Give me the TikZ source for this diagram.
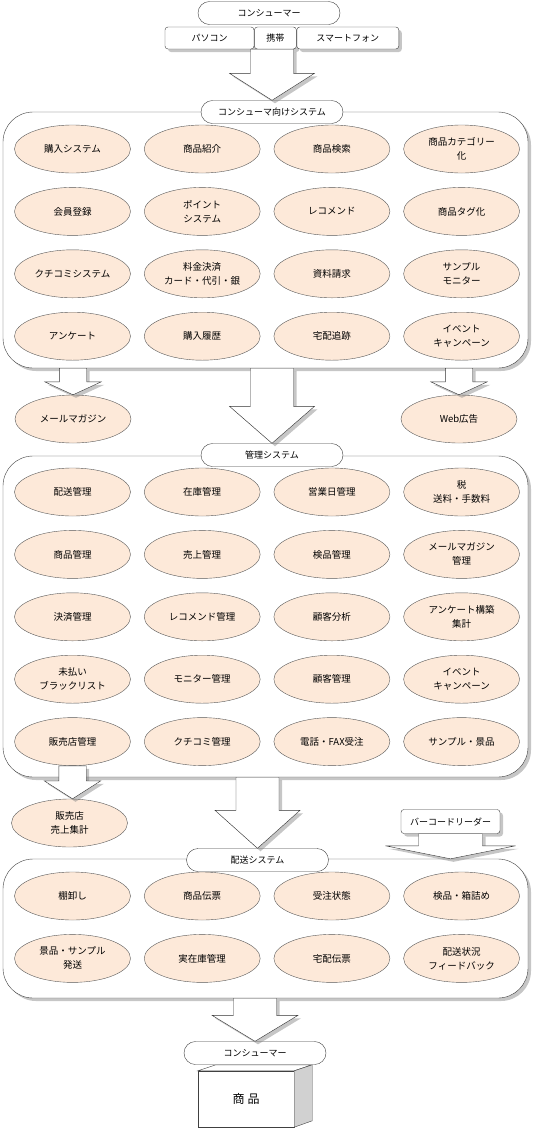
\documentclass[tikz,border=0pt]{standalone}
\usepackage{fontspec}
\setmainfont{Noto Sans CJK JP}
\usepackage{tikz}
\usetikzlibrary{positioning, calc, shapes.geometric, shapes.misc, shadows}
\definecolor{peach}{HTML}{FDE9D9}
\tikzset{
	shadowed/.style = {drop shadow={shadow xshift=3pt, shadow yshift=-3pt, opacity=.45}},
	arrowbody/.style = {draw=black!80, fill=white, line join=miter, shadowed}
}
% dicker Blockpfeil: Start, Spitze, halbe Schaftbreite, halbe Kopfbreite, Kopflaenge
\newcommand{\bigarrow}[5]{%
	\draw[arrowbody] let \p1=(#1), \p2=(#2) in
		(\x1-#3pt,\y1) -- (\x1-#3pt,\y2+#5pt) -- (\x1-#4pt,\y2+#5pt) -- (\x1,\y2)
		-- (\x1+#4pt,\y2+#5pt) -- (\x1+#3pt,\y2+#5pt) -- (\x1+#3pt,\y1) -- cycle;}

\begin{document}
\begin{tikzpicture}[x=1pt, y=-1pt,
		sysbox/.style={draw=black!75, fill=white, rounded corners=30pt, shadowed},
		funcell/.style={ellipse, draw=black!65, fill=peach, minimum width=116pt, minimum height=48pt, inner sep=0pt, align=center, font=\fontsize{9.5pt}{14pt}\selectfont},
		titlepill/.style={rounded rectangle, draw=black!75, fill=white, minimum width=142pt, minimum height=23pt, inner sep=0pt, font=\fontsize{9pt}{11pt}\selectfont},
		devbox/.style={draw=black!75, fill=white, rounded corners=3pt, minimum height=22pt, inner sep=0pt, shadowed, font=\fontsize{9pt}{11pt}\selectfont},
		node distance=14pt and 13.3pt % Abstand zwischen den Ellipsen
		]
		\useasboundingbox (0,0) rectangle (540,1128);
		
		% Eingabegeraete
		\node[titlepill] (T0) at (269,13) {コンシューマー};
		\node[devbox, minimum width=89pt] (D1) at (209.5,38) {パソコン};
		\node[devbox, minimum width=42pt, right=0pt of D1] (D2) {携帯};
		\node[devbox, minimum width=102pt, right=0pt of D2] (D3) {スマートフォン};
		
		% Konsumentensystem
		\node[sysbox, minimum width=525pt, minimum height=256pt] (S1) at (265.5,240) {};
		\node[funcell] (K1) at (72.5,149) {購入システム};
		\node[funcell, right=of K1] (K2) {商品紹介};
		\node[funcell, right=of K2] (K3) {商品検索};
		\node[funcell, right=of K3] (K4) {商品カテゴリー\\化};
		\node[funcell, below=of K1] (K5) {会員登録};
		\node[funcell, right=of K5] (K6) {ポイント\\システム};
		\node[funcell, right=of K6] (K7) {レコメンド};
		\node[funcell, right=of K7] (K8) {商品タグ化};
		\node[funcell, below=of K5] (K9) {クチコミシステム};
		\node[funcell, right=of K9] (K10) {料金決済\\カード・代引・銀};
		\node[funcell, right=of K10] (K11) {資料請求};
		\node[funcell, right=of K11] (K12) {サンプル\\モニター};
		\node[funcell, below=of K9] (K13) {アンケート};
		\node[funcell, right=of K13] (K14) {購入履歴};
		\node[funcell, right=of K14] (K15) {宅配追跡};
		\node[funcell, right=of K15] (K16) {イベント\\キャンペーン};
		\node[titlepill] (T1) at (272,112) {コンシューマ向けシステム};
		\bigarrow{D2.south -| T1.north}{T1.north}{21.5}{42.5}{27}
		
		% Werbung
		\node[funcell] (MM) at (73,419) {メールマガジン};
		\node[funcell] (WEB) at (459,419) {Web広告};
		\bigarrow{S1.south -| MM.north}{MM.north}{13.7}{28.3}{13}
		\bigarrow{S1.south -| WEB.north}{WEB.north}{13.7}{28.3}{13}
		
		% Verwaltung
		\node[sysbox, minimum width=525pt, minimum height=321pt] (S2) at (265.5,616.5) {};
		\node[funcell] (M1) at (72.5,492) {配送管理};
		\node[funcell, right=of M1] (M2) {在庫管理};
		\node[funcell, right=of M2] (M3) {営業日管理};
		\node[funcell, right=of M3] (M4) {税\\送料・手数料};
		\node[funcell, below=of M1] (M5) {商品管理};
		\node[funcell, right=of M5] (M6) {売上管理};
		\node[funcell, right=of M6] (M7) {検品管理};
		\node[funcell, right=of M7] (M8) {メールマガジン\\管理};
		\node[funcell, below=of M5] (M9) {決済管理};
		\node[funcell, right=of M9] (M10) {レコメンド管理};
		\node[funcell, right=of M10] (M11) {顧客分析};
		\node[funcell, right=of M11] (M12) {アンケート構築\\集計};
		\node[funcell, below=of M9] (M13) {未払い\\ブラックリスト};
		\node[funcell, right=of M13] (M14) {モニター管理};
		\node[funcell, right=of M14] (M15) {顧客管理};
		\node[funcell, right=of M15] (M16) {イベント\\キャンペーン};
		\node[funcell, below=of M13] (M17) {販売店管理};
		\node[funcell, right=of M17] (M18) {クチコミ管理};
		\node[funcell, right=of M18] (M19) {電話・FAX受注};
		\node[funcell, right=of M19] (M20) {サンプル・景品};
		\node[titlepill] (T2) at (272,455) {管理システム};
		\bigarrow{S1.south -| T2.north}{T2.north}{21.5}{42.5}{37}
		
		% Haendler
		\node[funcell] (SHOP) at (69.5,823) {販売店\\売上集計};
		\bigarrow{M17.south}{SHOP.north}{13.7}{28.3}{18}
		
		% Versand
		\node[sysbox, minimum width=525pt, minimum height=139pt] (S3) at (265.5,928.5) {};
		\node[funcell] (V1) at (72.5,896) {棚卸し};
		\node[funcell, right=of V1] (V2) {商品伝票};
		\node[funcell, right=of V2] (V3) {受注状態};
		\node[funcell, right=of V3] (V4) {検品・箱詰め};
		\node[funcell, below=of V1] (V5) {景品・サンプル\\発送};
		\node[funcell, right=of V5] (V6) {実在庫管理};
		\node[funcell, right=of V6] (V7) {宅配伝票};
		\node[funcell, right=of V7] (V8) {配送状況\\フィードバック};
		\node[titlepill] (T3) at (257.5,860) {配送システム};
		\bigarrow{S2.south -| T3.north}{T3.north}{21.5}{42.5}{38}
		
		\node[devbox, minimum width=99pt, minimum height=24pt] (BC) at (450.5,821.5) {バーコードリーダー};
		\bigarrow{BC.south}{S3.north -| BC.south}{32}{65}{13}
		
		% Ware beim Kunden
		\node[draw=black!75, fill=white, minimum width=96pt, minimum height=56pt, font=\fontsize{12pt}{14pt}\selectfont] (WARE) at (246,1099) {商\hspace{3pt}品};
		\draw[draw=black!75, fill=white] (WARE.north west) -- ++(18,-6) -- ++(96,0) -- (WARE.north east) -- cycle;
		\draw[draw=black!75, fill=black!18] (WARE.north east) -- ++(18,-6) -- ++(0,56) -- (WARE.south east) -- cycle;
		\node[titlepill] (T4) at (255,1053) {コンシューマー};
		\bigarrow{S3.south -| T4.north}{T4.north}{21.5}{43}{26}
	\end{tikzpicture}
\end{document}
